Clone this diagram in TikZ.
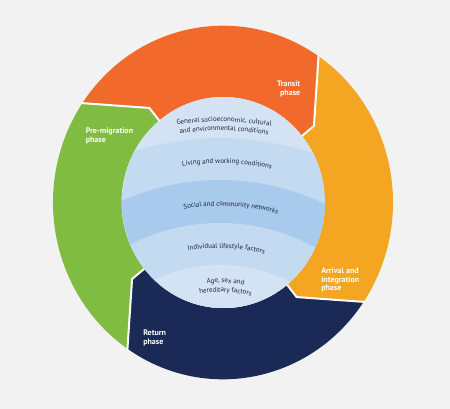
\documentclass[tikz,border=0pt]{standalone}
\usepackage{fontspec}
\setmainfont{PT Sans}
\usepackage{tikz}
\usetikzlibrary{decorations.text}

\definecolor{backgr}{RGB}{242,242,242}
\definecolor{premig}{RGB}{128,188,66}
\definecolor{transit}{RGB}{241,106,44}
\definecolor{arrival}{RGB}{244,166,34}
\definecolor{retrn}{RGB}{27,41,86}
\definecolor{bandlight}{RGB}{211,227,244}
\definecolor{bandmid}{RGB}{196,218,241}
\definecolor{banddark}{RGB}{168,202,236}
\definecolor{inktext}{RGB}{30,36,62}

\newcommand\innerfont{\fontsize{5.2}{6}\selectfont}
\newcommand\phasefont{\fontsize{6}{6.2}\selectfont\bfseries}
% text bent on an arc round (220,420): radius, x of centre, text
\newcommand\arctext[3]{\path[decorate,decoration={text along path,text align=center,text={|\innerfont\color{inktext}|#3}}] (220,420) ++({-115+asin((#2-220)/#1)}:#1) arc[start angle={-115+asin((#2-220)/#1)}, delta angle=50, radius=#1];}

\tikzset{phase/.style={inner sep=0pt,text=white,font=\phasefont}}

\begin{document}
\begin{tikzpicture}[x=0.75pt,y=0.75pt,yscale=-1,xscale=1]
            %Shape: Rectangle [background]
            \fill [backgr] (0,0) rectangle (450,409) ;
            \useasboundingbox (0,0) rectangle (450,409) ;

            %Shape: Ring of phases
            \begin{scope}[shift={(223,202.5)},yscale=1.04]
            \foreach \col [count=\i from 0, evaluate=\i as \a using -129+90*\i] in {premig,transit,arrival,retrn}
              \fill [\col] (\a:101.5) -- (\a:117) -- (\a-17:170) arc [start angle=\a-17, end angle=\a-107, radius=170] -- (\a-90:117) -- (\a-90:101.5) arc [start angle=\a-90, end angle=\a, radius=101.5] -- cycle ;
            \foreach \a in {-129,-39,51,141}
              \draw [white, line width=1.5] (\a:95) -- (\a:117) -- (\a-17:171) ;
            \end{scope}

            %Shape: Circle with bands
            \begin{scope}
            \clip (223.5,202.5) ellipse [x radius=101.5, y radius=105.5] ;
            \fill [bandlight] (223.5,202.5) ellipse [x radius=101.5, y radius=105.5] ;
            \fill [bandmid] (220,420) circle [radius=282] ;
            \fill [banddark] (220,420) circle [radius=240] ;
            \fill [bandmid] (220,420) circle [radius=197] ;
            \fill [bandlight] (220,420) circle [radius=155] ;
            \end{scope}

            % Text on arcs
            \arctext{298.3}{224}{General socioeconomic, cultural}
            \arctext{289.3}{224}{and environmental conditions}
            \arctext{256.5}{227}{Living and working conditions}
            \arctext{214}{231}{Social and community networks}
            \arctext{172}{226.5}{Individual lifestyle factors}
            \arctext{137.2}{225.5}{Age, sex and}
            \arctext{128}{225.5}{hereditary factors}

            % Text Node
            \draw (300.5,81) node [anchor=north east][phase][align=right] (transit) {Transit\\phase};
            % Text Node
            \draw (85.5,128) node [anchor=north west][phase][align=left] (premig) {Pre-migration\\phase};
            % Text Node
            \draw (321,268) node [anchor=north west][phase][align=left] (arrival) {Arrival and\\integration\\phase};
            % Text Node
            \draw (143,330) node [anchor=north west][phase][align=left] (return) {Return\\phase};
\end{tikzpicture}
\end{document}
